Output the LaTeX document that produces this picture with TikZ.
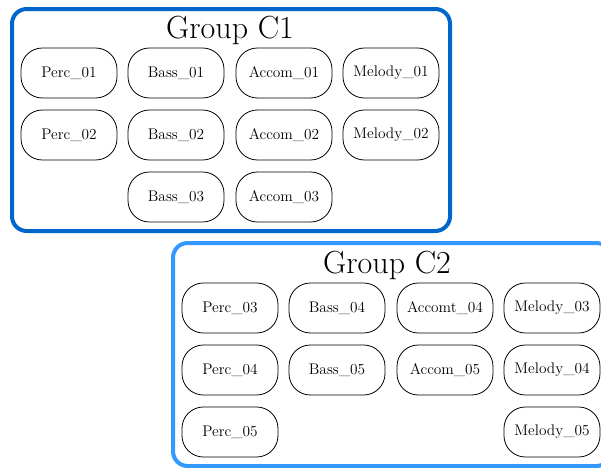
\documentclass[tikz,border=0pt]{standalone}
\definecolor{groupone}{RGB}{0, 102, 204}
\definecolor{grouptwo}{RGB}{51, 153, 255}
\usepackage{tikz}

\begin{document}
\begin{tikzpicture}[x=0.75pt, y=-0.75pt,
  track/.style={draw, rounded corners=16pt, line width=0.6pt, minimum width=72pt,
                minimum height=37.5pt, inner sep=2pt, font=\fontsize{11.5}{14}\selectfont},
  group/.style={line width=3pt, rounded corners=11pt},
  grouptitle/.style={font=\fontsize{24}{28}\selectfont, anchor=base},
]
\useasboundingbox (0,0) rectangle (601,468);

% Group C1
\draw[group, groupone] (12,9) rectangle (450,231);
\node[grouptitle] (titleone) at (230,38) {Group C1};
\node[track] (perc1) at (69,73) {Perc\_01};
\node[track] (bass1) at (176,73) {Bass\_01};
\node[track] (accom1) at (284,73) {Accom\_01};
\node[track] (melody1) at (391,73) {Melody\_01};
\node[track] (perc2) at (69,135) {Perc\_02};
\node[track] (bass2) at (176,135) {Bass\_02};
\node[track] (accom2) at (284,135) {Accom\_02};
\node[track] (melody2) at (391,135) {Melody\_02};
\node[track] (bass3) at (176,197) {Bass\_03};
\node[track] (accom3) at (284,197) {Accom\_03};

% Group C2 (runs off the right edge)
\draw[group, grouptwo] (173,243) rectangle (611,466);
\node[grouptitle] (titletwo) at (387,273) {Group C2};
\node[track] (perc3) at (230,308) {Perc\_03};
\node[track] (bass4) at (337,308) {Bass\_04};
\node[track] (accom4) at (445,308) {Accomt\_04};
\node[track] (melody3) at (552,308) {Melody\_03};
\node[track] (perc4) at (230,370) {Perc\_04};
\node[track] (bass5) at (337,370) {Bass\_05};
\node[track] (accom5) at (445,370) {Accom\_05};
\node[track] (melody4) at (552,370) {Melody\_04};
\node[track] (perc5) at (230,432) {Perc\_05};
\node[track] (melody5) at (552,432) {Melody\_05};
\end{tikzpicture}
\end{document}
